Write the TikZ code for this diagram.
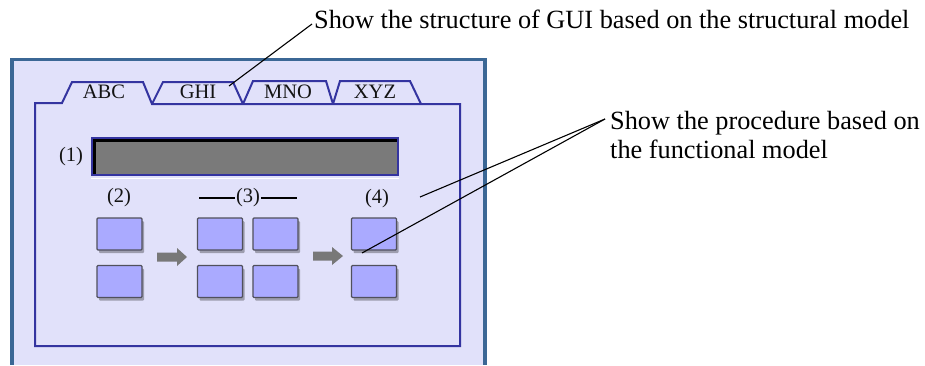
\documentclass[tikz,border=0pt]{standalone}
\usepackage{fontspec}
\setmainfont{Liberation Serif}
\usetikzlibrary{shadows}

\definecolor{panelfill}{RGB}{225,225,250}
\definecolor{paneledge}{RGB}{59,103,149}
\definecolor{frameedge}{RGB}{52,52,160}
\definecolor{boxfill}{RGB}{170,170,255}
\definecolor{boxedge}{RGB}{80,80,92}
\definecolor{barfill}{RGB}{122,122,122}
\definecolor{arrowgray}{RGB}{120,120,120}
\definecolor{tabtext}{RGB}{20,20,20}

\tikzset{
  frameline/.style={draw=frameedge, line width=2pt, line join=miter},
  tablabel/.style={anchor=base, inner sep=0pt, text=tabtext, font=\fontsize{20.5}{24}\selectfont},
  steplabel/.style={inner sep=0pt, text=tabtext, font=\fontsize{20.5}{24}\selectfont},
  gbox/.style={draw=boxedge, line width=1.3pt, fill=boxfill, minimum width=45pt,
    minimum height=32pt, inner sep=0pt, rounded corners=1pt,
    drop shadow={shadow xshift=2pt, shadow yshift=-3pt, opacity=0.3, fill=black}},
  inbar/.style={draw=frameedge, line width=1.2pt, fill=barfill, minimum width=306pt,
    minimum height=37pt, inner sep=0pt,
    path picture={
      \fill[black] (path picture bounding box.north west) rectangle
        ([yshift=-4pt]path picture bounding box.north east);
      \fill[black] (path picture bounding box.north west) rectangle
        ([xshift=4pt]path picture bounding box.south west);}},
  note/.style={anchor=base west, inner sep=0pt, font=\fontsize{26.3}{29}\selectfont},
  leader/.style={draw=black, line width=1.1pt},
  blockarrow/.style={fill=arrowgray}
}

\begin{document}
\begin{tikzpicture}[x=1pt, y=-1pt]
\useasboundingbox (0,0) rectangle (925,365);

% window background and its border
\fill[panelfill] (12,59) rectangle (485,365);
\fill[paneledge] (10,58) rectangle (14,365);
\fill[paneledge] (483,58) rectangle (487,365);
\fill[paneledge] (10,58) rectangle (487,61);

% inactive tabs
\draw[frameline, fill=panelfill] (152,104) -- (163,82) -- (233,82) -- (243,104);
\draw[frameline, fill=panelfill] (243,104) -- (253,81) -- (326,81) -- (333,104);
\draw[frameline, fill=panelfill] (333,104) -- (340,81) -- (410,81) -- (421,104);

% page frame with the active tab
\draw[frameline, fill=panelfill] (35,346) -- (35,103) -- (62,103) -- (72,82) -- (143,82)
  -- (152,104) -- (460,104) -- (460,346) -- cycle;

% tab captions
\node[tablabel] (tabABC) at (104,98) {ABC};
\node[tablabel] (tabGHI) at (198,98) {GHI};
\node[tablabel] (tabMNO) at (288,98) {MNO};
\node[tablabel] (tabXYZ) at (375,98) {XYZ};

% (1) input bar
\node[steplabel] (lab1) at (71,157) {(1)};
\node[inbar] (bar) at (245,156.5) {};
\draw[white, line width=1pt] ([yshift=-2.5pt]bar.south west) -- ([yshift=-2.5pt]bar.south east);

% step captions
\node[steplabel] (lab2) at (119,198) {(2)};
\node[steplabel] (lab3) at (248,198) {(3)};
\node[steplabel] (lab4) at (377,199) {(4)};
\coordinate (rule3a) at (199,198);
\coordinate (rule3b) at (297,198);
\draw[line width=1.3pt] (rule3a) -- ([xshift=-1pt]lab3.west);
\draw[line width=1.3pt] ([xshift=1pt]lab3.east) -- (rule3b);

% button grid
\node[gbox] (b2a) at (119.5,234) {};
\node[gbox] (b2b) at (119.5,281.5) {};
\node[gbox] (b3a) at (220,234) {};
\node[gbox] (b3b) at (220,281.5) {};
\node[gbox] (b3c) at (275.5,234) {};
\node[gbox] (b3d) at (275.5,281.5) {};
\node[gbox] (b4a) at (374,234) {};
\node[gbox] (b4b) at (374,281.5) {};

% block arrows between the steps
\fill[blockarrow] (157,252.5) -- (177,252.5) -- (177,248) -- (187,257) -- (177,266)
  -- (177,261.5) -- (157,261.5) -- cycle;
\fill[blockarrow] (313,251.5) -- (332,251.5) -- (332,247) -- (343,256) -- (332,265)
  -- (332,260.5) -- (313,260.5) -- cycle;

% callouts
\node[note] (structText) at (314,28) {Show the structure of GUI based on the structural model};
\node[note] (procText1) at (610,129.3) {Show the procedure based on};
\node[note] (procText2) at (610,158.3) {the functional model};

\coordinate (structFoot) at (312,24);
\coordinate (ghiTip) at (229,86);
\draw[leader] (structFoot) -- (ghiTip);

\coordinate (procFoot) at (605,119);
\coordinate (frameTip) at (420,197);
\coordinate (buttonTip) at (362,253);
\draw[leader] (procFoot) -- (frameTip);
\draw[leader] (procFoot) -- (buttonTip);
\end{tikzpicture}
\end{document}
